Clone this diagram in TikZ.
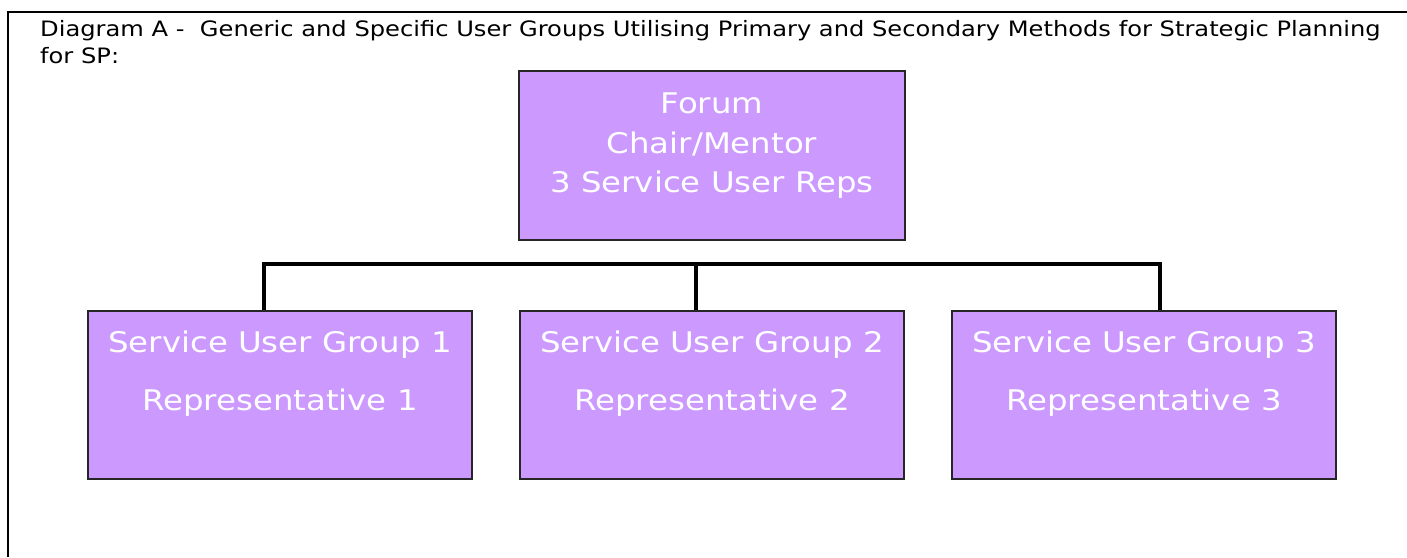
\documentclass[tikz,border=0pt]{standalone}
\usepackage{fontspec}
\setmainfont{DejaVu Sans}[FakeStretch=1.14]
\usetikzlibrary{calc}
\definecolor{lilac}{RGB}{204,153,255}
\tikzset{
  unitbox/.style={draw=black!85, line width=1.6pt, fill=lilac, inner sep=0pt,
    minimum width=384pt, minimum height=168pt},
  boxtext/.style={text=white, font=\fontsize{28.4}{34}\selectfont, anchor=base, inner sep=0pt},
  titletext/.style={font=\fontsize{21.2}{27}\selectfont, anchor=base west, inner sep=0pt},
  link/.style={line width=3.3pt, black},
  frameline/.style={line width=2.4pt, black}
}
\begin{document}
\begin{tikzpicture}[x=1pt,y=-1pt]
\useasboundingbox (0,0) rectangle (1407,557);
% outer frame (left and top rules)
\draw[frameline] (8,557) -- (8,12) -- (1407,12);
% heading
\node[titletext] (t1) at (40,36) {Diagram A -\ \ Generic and Specific User Groups Utilising Primary and Secondary Methods for Strategic Planning};
\node[titletext] (t2) at (40,63) {for SP:};
% connector bar
\coordinate (bar) at (712,264);
\coordinate (j1) at (264,311);
\coordinate (j2) at (696,311);
\coordinate (j3) at (1160,311);
\draw[link] (j1) |- (bar) -| (j3);
\draw[link] (j2) -- (j2 |- bar);
% boxes
\node[unitbox, minimum width=386pt, minimum height=169pt] (forum) at (712,155.5) {};
\node[unitbox] (b1) at (280,395) {};
\node[unitbox] (b2) at (712,395) {};
\node[unitbox] (b3) at (1144,395) {};
% box texts
\node[boxtext] (f1) at (712,113) {Forum};
\node[boxtext] (f2) at (712,153) {Chair/Mentor};
\node[boxtext] (f3) at (712,192) {3 Service User Reps};
\node[boxtext] (g1) at (280,352) {Service User Group 1};
\node[boxtext] (r1) at (280,410) {Representative 1};
\node[boxtext] (g2) at (712,352) {Service User Group 2};
\node[boxtext] (r2) at (712,410) {Representative 2};
\node[boxtext] (g3) at (1144,352) {Service User Group 3};
\node[boxtext] (r3) at (1144,410) {Representative 3};
\end{tikzpicture}
\end{document}
